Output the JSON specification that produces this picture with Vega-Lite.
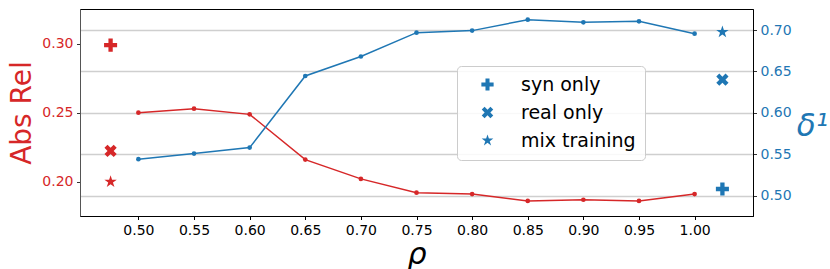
{
  "$schema": "https://vega.github.io/schema/vega-lite/v6.json",
  "width": 673,
  "height": 207,
  "autosize": {"type": "none"},
  "padding": {"left": 80, "top": 9, "right": 77, "bottom": 53},
  "config": {
    "font": "DejaVu Sans",
    "view": {"stroke": "black", "strokeWidth": 1},
    "axis": {
      "labelFont": "DejaVu Sans",
      "labelFontSize": 14,
      "tickSize": 3.5,
      "labelPadding": 3.5,
      "titleFontWeight": "normal",
      "domainColor": "black",
      "tickColor": "#333"
    }
  },
  "datasets": {
    "curve": [
      {"rho": 0.50, "absrel": 0.2500, "delta": 0.5440},
      {"rho": 0.55, "absrel": 0.2529, "delta": 0.5508},
      {"rho": 0.60, "absrel": 0.2488, "delta": 0.5580},
      {"rho": 0.65, "absrel": 0.2160, "delta": 0.6445},
      {"rho": 0.70, "absrel": 0.2020, "delta": 0.6680},
      {"rho": 0.75, "absrel": 0.1920, "delta": 0.6968},
      {"rho": 0.80, "absrel": 0.1910, "delta": 0.6993},
      {"rho": 0.85, "absrel": 0.1860, "delta": 0.7125},
      {"rho": 0.90, "absrel": 0.1869, "delta": 0.7093},
      {"rho": 0.95, "absrel": 0.1860, "delta": 0.7105},
      {"rho": 1.00, "absrel": 0.1910, "delta": 0.6956}
    ],
    "red": [
      {"rho": 0.475, "absrel": 0.2990, "method": "syn only"},
      {"rho": 0.475, "absrel": 0.2223, "method": "real only"},
      {"rho": 0.475, "absrel": 0.2000, "method": "mix training"}
    ],
    "blue": [
      {"rho": 1.025, "delta": 0.5080, "method": "syn only"},
      {"rho": 1.025, "delta": 0.6400, "method": "real only"},
      {"rho": 1.025, "delta": 0.6977, "method": "mix training"}
    ]
  },
  "layer": [
    {
      "layer": [
        {
          "data": {"name": "curve"},
          "mark": {"type": "line", "color": "#d62728", "strokeWidth": 1.5, "point": {"filled": true, "size": 22, "color": "#d62728"}},
          "encoding": {
            "x": {"field": "rho", "type": "quantitative", "scale": {"domain": [0.4475, 1.0525], "nice": false, "zero": false},
              "axis": {"values": [0.5, 0.55, 0.6, 0.65, 0.7, 0.75, 0.8, 0.85, 0.9, 0.95, 1.0], "format": ".2f", "grid": false, "title": "ρ", "titleFontSize": 30, "titleFontStyle": "italic", "titlePadding": 2, "labelColor": "black", "tickColor": "black"}},
            "y": {"field": "absrel", "type": "quantitative", "scale": {"domain": [0.1751, 0.3252], "nice": false, "zero": false},
              "axis": {"values": [0.2, 0.25, 0.3], "format": ".2f", "grid": false, "title": "Abs Rel", "titleFontSize": 28, "titleColor": "#d62728", "labelColor": "#d62728", "titlePadding": 5, "domainColor": "#555"}}
          }
        },
        {
          "data": {"name": "red"},
          "mark": {"type": "point", "filled": true, "size": 170, "color": "#d62728", "opacity": 1},
          "encoding": {
            "x": {"field": "rho", "type": "quantitative"},
            "y": {"field": "absrel", "type": "quantitative"},
            "shape": {"field": "method", "type": "nominal",
              "scale": {"domain": ["syn only", "real only", "mix training"],
                "range": [
                  "M-0.33,-1H0.33V-0.33H1V0.33H0.33V1H-0.33V0.33H-1V-0.33H-0.33Z",
                  "M0.474,-0.94L0.94,-0.474L0.467,0L0.94,0.474L0.474,0.94L0,0.467L-0.474,0.94L-0.94,0.474L-0.467,0L-0.94,-0.474L-0.474,-0.94L0,-0.467Z",
                  "M0,-1L0.2245,-0.309L0.951,-0.309L0.363,0.118L0.588,0.809L0,0.382L-0.588,0.809L-0.363,0.118L-0.951,-0.309L-0.2245,-0.309Z"
                ]},
              "legend": null
            }
          }
        }
      ]
    },
    {
      "layer": [
        {
          "data": {"name": "curve"},
          "mark": {"type": "line", "color": "#1f77b4", "strokeWidth": 1.5, "point": {"filled": true, "size": 22, "color": "#1f77b4"}},
          "encoding": {
            "x": {"field": "rho", "type": "quantitative"},
            "y": {"field": "delta", "type": "quantitative", "scale": {"domain": [0.4754, 0.7254], "nice": false, "zero": false},
              "axis": {"orient": "right", "values": [0.5, 0.55, 0.6, 0.65, 0.7], "format": ".2f", "grid": true, "gridColor": "#cfcfcf", "gridWidth": 1.5, "title": "δ¹", "titleFontSize": 31, "titleFontStyle": "italic", "titleColor": "#1f77b4", "labelColor": "#1f77b4", "titleAngle": 0, "titleAlign": "center", "titleBaseline": "middle", "titleX": 59, "titleY": 117}}
          }
        },
        {
          "data": {"name": "blue"},
          "mark": {"type": "point", "filled": true, "size": 170, "color": "#1f77b4", "opacity": 1},
          "encoding": {
            "x": {"field": "rho", "type": "quantitative"},
            "y": {"field": "delta", "type": "quantitative"},
            "shape": {"field": "method", "type": "nominal",
              "scale": {"domain": ["syn only", "real only", "mix training"],
                "range": [
                  "M-0.33,-1H0.33V-0.33H1V0.33H0.33V1H-0.33V0.33H-1V-0.33H-0.33Z",
                  "M0.474,-0.94L0.94,-0.474L0.467,0L0.94,0.474L0.474,0.94L0,0.467L-0.474,0.94L-0.94,0.474L-0.467,0L-0.94,-0.474L-0.474,-0.94L0,-0.467Z",
                  "M0,-1L0.2245,-0.309L0.951,-0.309L0.363,0.118L0.588,0.809L0,0.382L-0.588,0.809L-0.363,0.118L-0.951,-0.309L-0.2245,-0.309Z"
                ]},
              "legend": {
                "title": null,
                "orient": "none",
                "legendX": 377,
                "legendY": 57,
                "labelFontSize": 19,
                "labelColor": "black",
                "labelFont": "DejaVu Sans",
                "labelOffset": 24,
                "symbolSize": 150,
                "symbolOffset": 12,
                "symbolFillColor": "#1f77b4",
                "symbolStrokeColor": "#1f77b4",
                "padding": 9,
                "rowPadding": 8,
                "fillColor": "rgba(255,255,255,0.85)",
                "strokeColor": "#cccccc",
                "cornerRadius": 4
              }
            }
          }
        }
      ]
    }
  ],
  "resolve": {"scale": {"y": "independent", "shape": "independent"}, "legend": {"shape": "independent"}}
}
